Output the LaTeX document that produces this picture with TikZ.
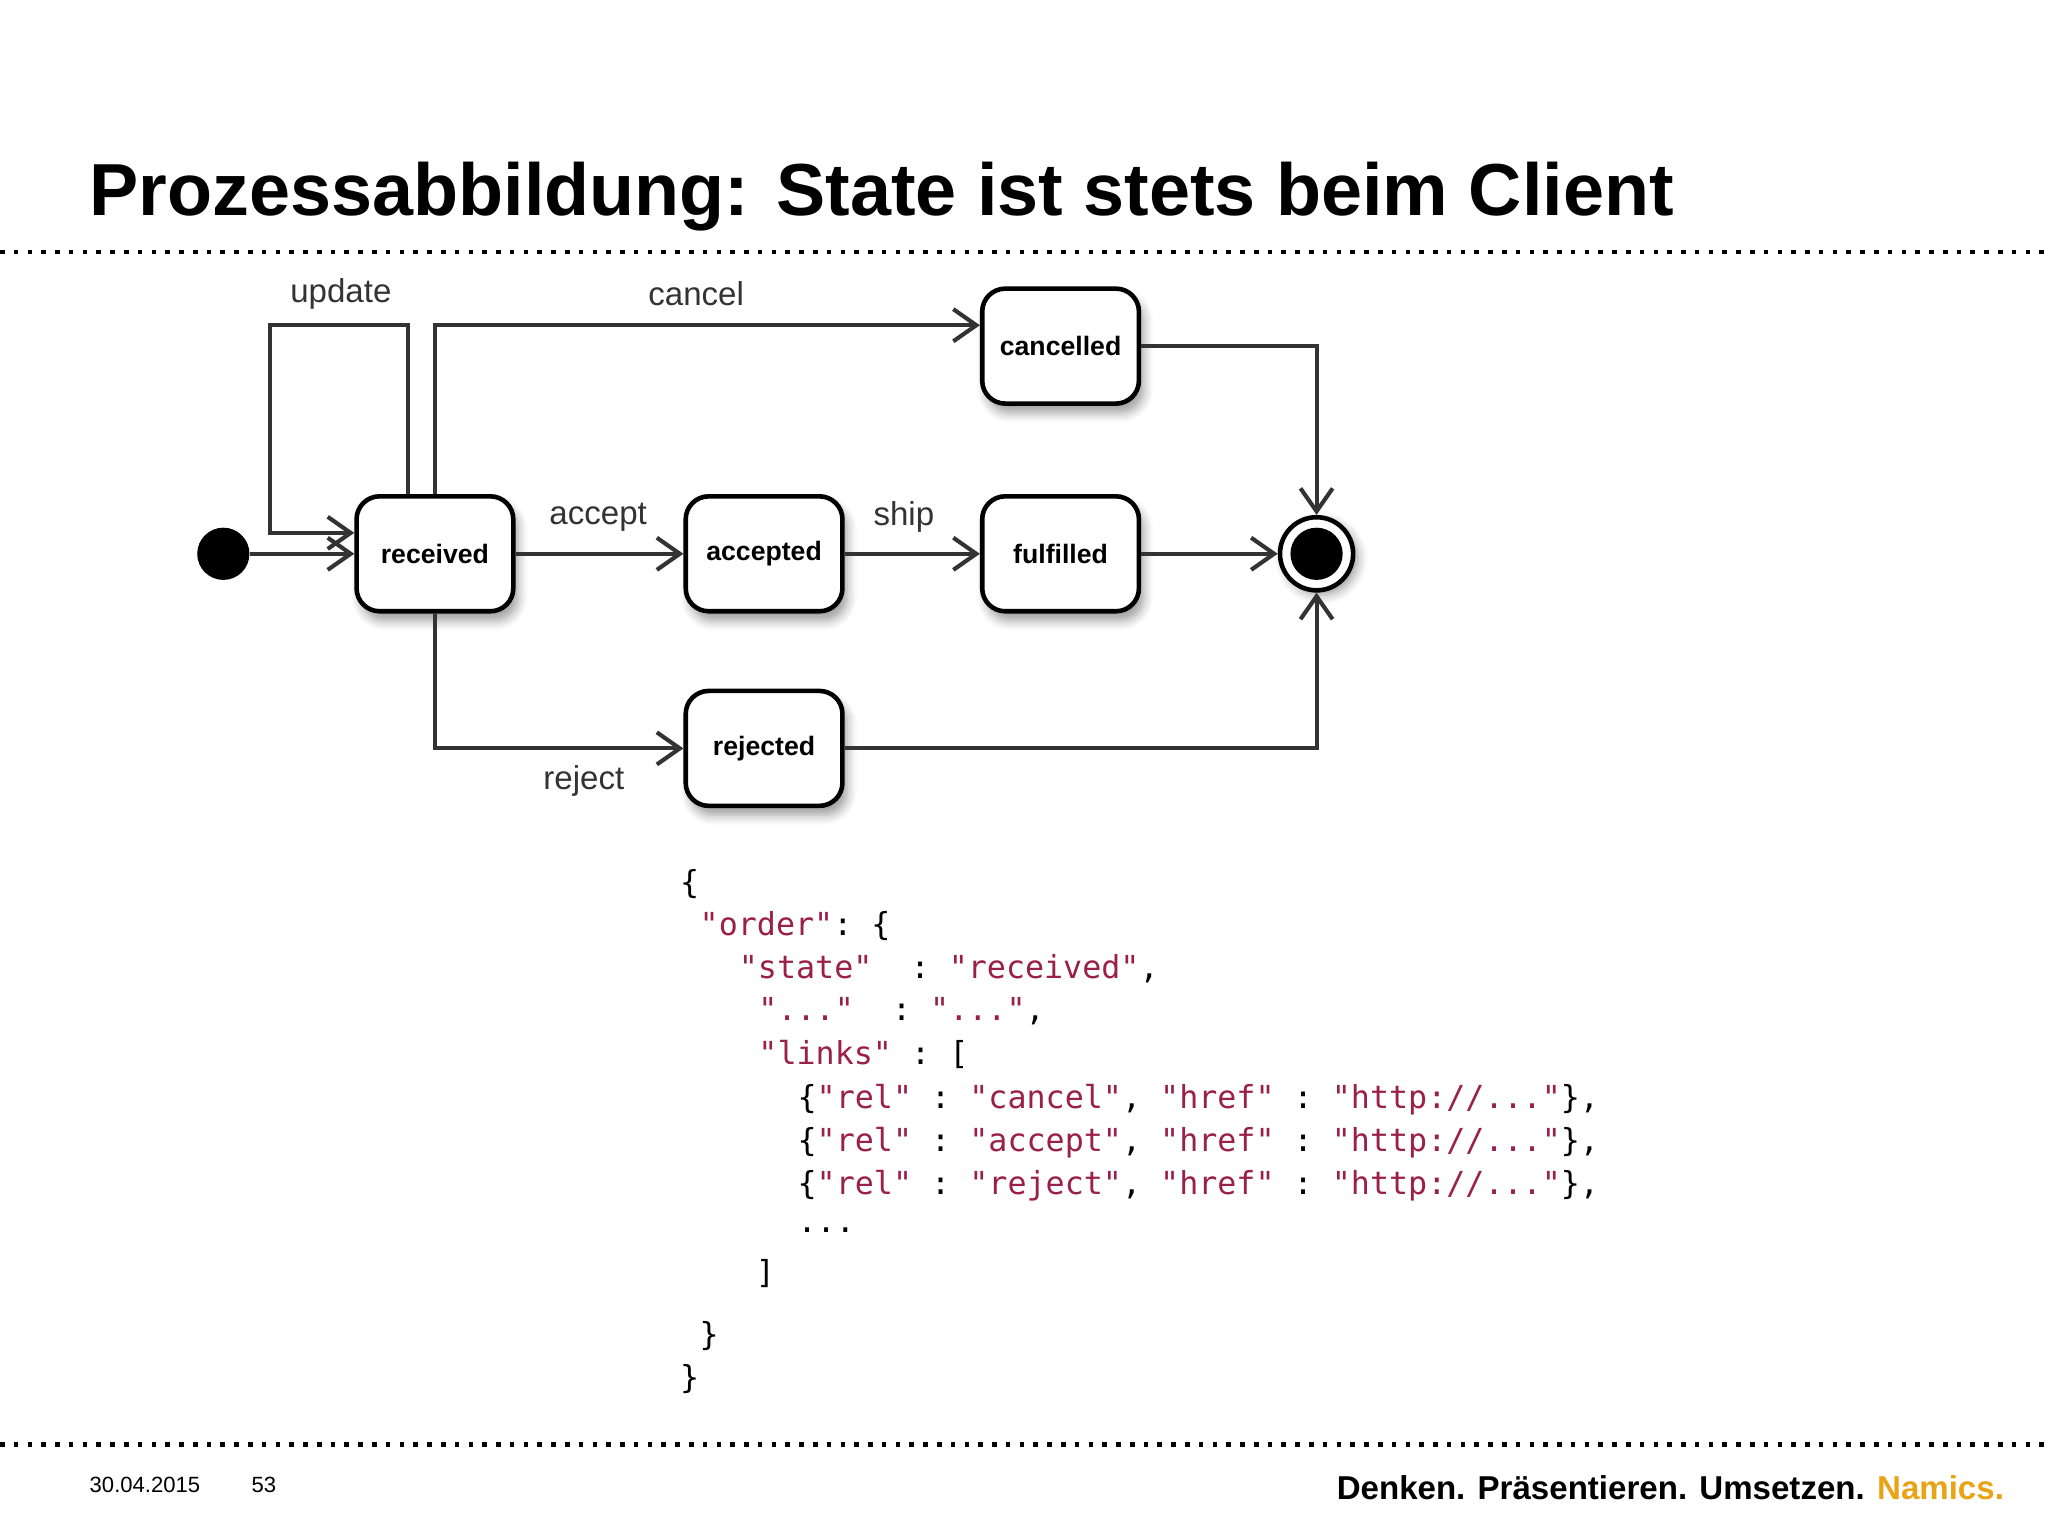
\documentclass[tikz,border=0pt]{standalone}
\usepackage{fontspec}
\setmainfont{Liberation Sans}
\setmonofont{DejaVu Sans Mono}
\usetikzlibrary{arrows.meta,shadows.blur}
\definecolor{str}{HTML}{9A2048}
\definecolor{gold}{HTML}{E8A317}
\tikzset{
 st/.style={draw=black,line width=1pt,rounded corners=5pt,fill=white,minimum width=120\mypx,minimum height=88\mypx,font=\fontsize{5.8}{7}\selectfont\bfseries,blur shadow={shadow xshift=1pt,shadow yshift=-2pt,shadow blur steps=5}},
 ed/.style={draw=black!80,line width=0.9pt,-{Straight Barb[length=5pt,width=7pt]}},
 lb/.style={font=\fontsize{7.2}{8}\selectfont,text=black!80},
 cd/.style={anchor=west,font=\fontsize{6.9}{8}\ttfamily,inner sep=0pt},
}
\newlength{\mypx}\setlength{\mypx}{0.01cm}
\newcommand{\s}[1]{\textcolor{str}{#1}}
\begin{document}
\begin{tikzpicture}[x=0.01cm,y=-0.01cm]
\useasboundingbox (0,0) rectangle (1568,1176);
\node[anchor=base west,font=\fontsize{16.05}{18}\selectfont\bfseries,inner sep=0pt] (title) at (68,165) {Prozessabbildung: State ist stets beim Client};
\draw[dotted,line width=1pt] (0,193) -- (1568,193);
\draw[dotted,line width=1pt] (0,1106) -- (1568,1106);
% states
\node[circle,fill=black,minimum size=40\mypx,inner sep=0pt] (init) at (171,424) {};
\node[st] (rec) at (333,424) {received};
\node[st] (acc) at (585,424) {accepted};
\node[st] (ful) at (812,424) {fulfilled};
\node[st] (can) at (812,265) {cancelled};
\node[st] (rej) at (585,573) {rejected};
\node[circle,draw=black,line width=1pt,fill=white,minimum size=56\mypx,inner sep=0pt,blur shadow={shadow xshift=1pt,shadow yshift=-1pt}] (fin) at (1008,424) {};
\node[circle,fill=black,minimum size=40\mypx,inner sep=0pt] at (fin) {};
% edges
\draw[ed] (init) -- (rec);
\draw[ed] (rec.north west) ++(41,0) coordinate (u1) |- (207,249) |- (rec.west |- 0,408);
\draw[ed] (rec.north) |- (can.west |- 0,249);
\draw[ed] (can.east) -| (fin.north);
\draw[ed] (rec) -- (acc);
\draw[ed] (acc) -- (ful);
\draw[ed] (ful) -- (fin);
\draw[ed] (rec.south) |- (rej.west);
\draw[ed] (rej.east) -| (fin.south);
\node[lb] (lu) at (261,225) {update};
\node[lb] (lc) at (533,225) {cancel};
\node[lb] (la) at (458,396) {accept};
\node[lb] (ls) at (692,396) {ship};
\node[lb] (lr) at (447,598) {reject};
% code
\node[cd] (c1) at (520,677) {\{};
\node[cd] (c2) at (535,709) {\s{"order"}: \{};
\node[cd] (c3) at (565,742) {\s{"state"}~ : \s{"received"},};
\node[cd] (c4) at (580,774) {\s{"..."}~ : \s{"..."},};
\node[cd] (c5) at (580,807) {\s{"links"} : [};
\node[cd] (c6) at (610,842) {\{\s{"rel"} : \s{"cancel"}, \s{"href"} : \s{"http://..."}\},};
\node[cd] (c7) at (610,875) {\{\s{"rel"} : \s{"accept"}, \s{"href"} : \s{"http://..."}\},};
\node[cd] (c8) at (610,908) {\{\s{"rel"} : \s{"reject"}, \s{"href"} : \s{"http://..."}\},};
\node[cd] (c9) at (610,942) {...};
\node[cd] (c10) at (578,975) {]};
\node[cd] (c11) at (535,1023) {\}};
\node[cd] (c12) at (520,1056) {\}};
% footer
\node[anchor=base west,font=\fontsize{4.8}{6}\selectfont,inner sep=0pt] (date) at (68,1143) {30.04.2015};
\node[anchor=base west,font=\fontsize{4.8}{6}\selectfont,inner sep=0pt] (pg) at (192,1143) {53};
\node[anchor=base east,font=\fontsize{7.2}{8}\selectfont\bfseries,inner sep=0pt] (slog) at (1535,1148) {Denken. Präsentieren. Umsetzen. \textcolor{gold}{Namics.}};
\end{tikzpicture}
\end{document}
